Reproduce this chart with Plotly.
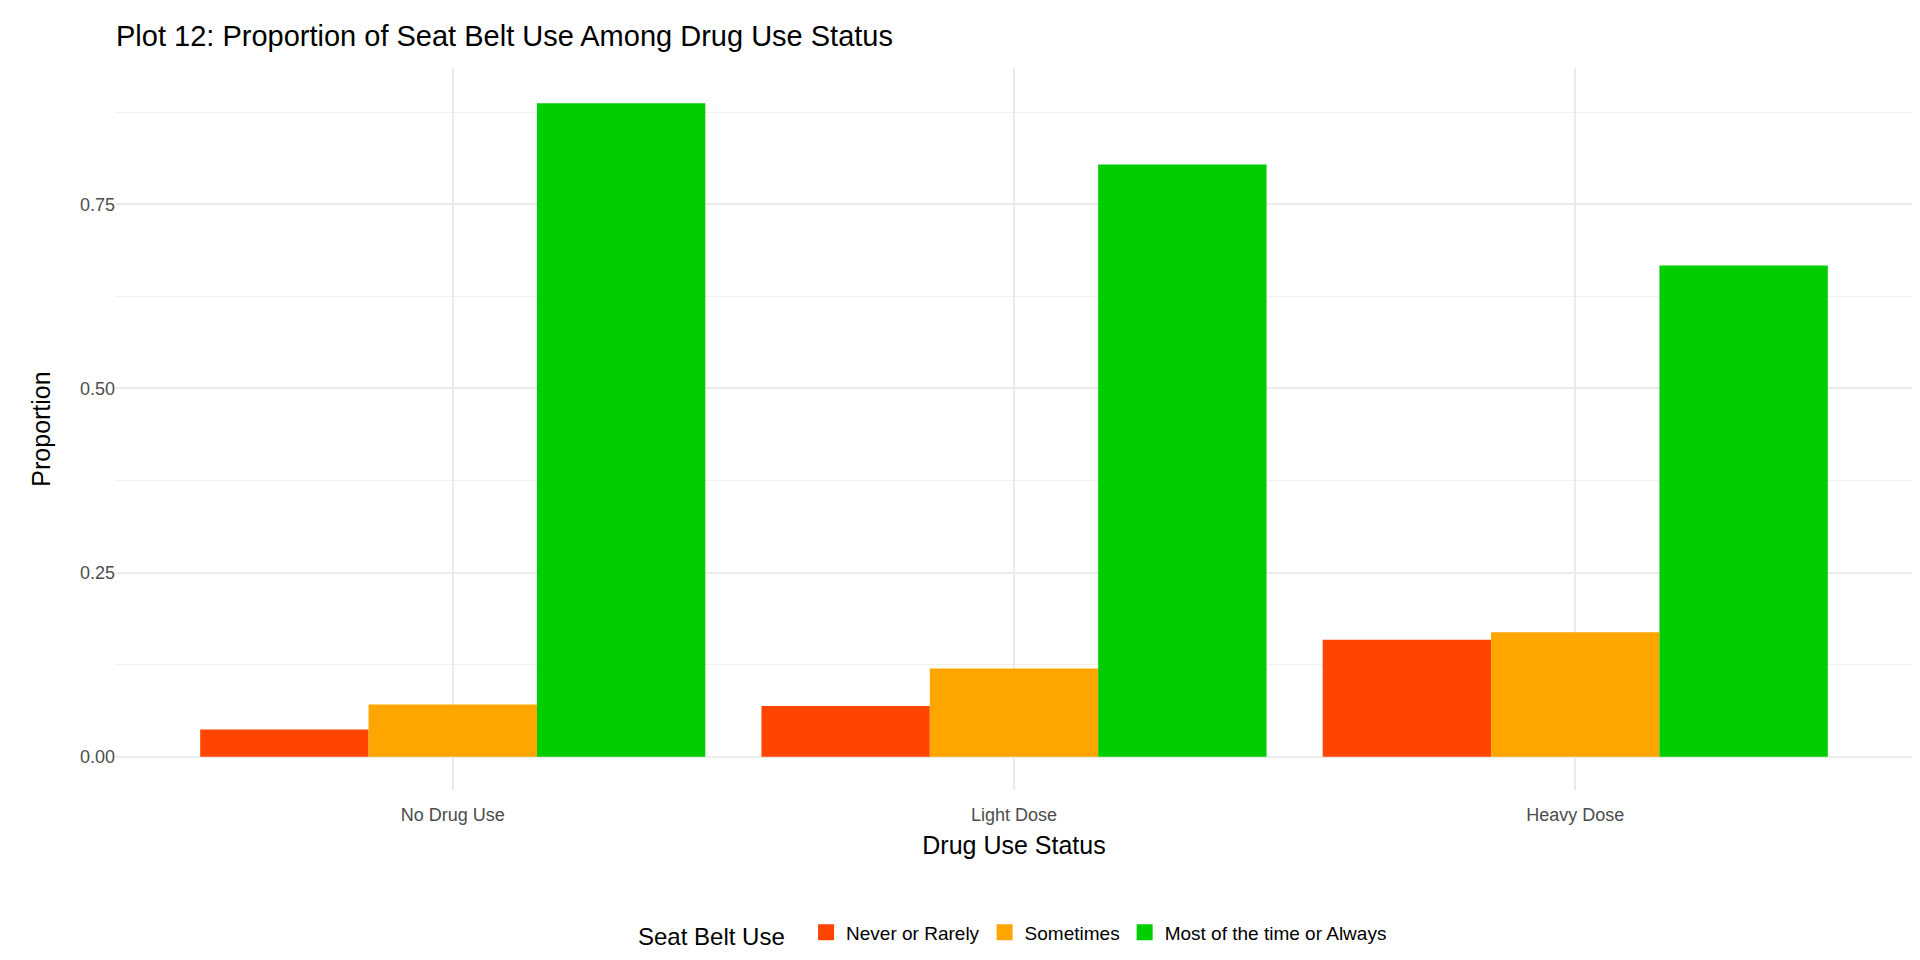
import plotly.graph_objects as go

categories = ["No Drug Use", "Light Dose", "Heavy Dose"]
series = ["Never or Rarely", "Sometimes", "Most of the time or Always"]
colors = ["#FF4500", "#FFA500", "#00CD00"]
values = {
    "Never or Rarely": [0.037, 0.069, 0.159],
    "Sometimes": [0.071, 0.120, 0.169],
    "Most of the time or Always": [0.887, 0.804, 0.667],
}

fig = go.Figure()
for s, c in zip(series, colors):
    fig.add_trace(go.Bar(x=categories, y=values[s], name=s, marker_color=c,
                         marker_line_width=0, showlegend=False))
for s, c in zip(series, colors):
    fig.add_trace(go.Scatter(x=[None], y=[None], mode="markers", name=s,
                             marker=dict(symbol="square", size=40, color=c)))

fig.update_layout(
    width=1920, height=960,
    paper_bgcolor="white", plot_bgcolor="white",
    font=dict(family="Liberation Sans, Arial, sans-serif", color="#4D4D4D", size=17),
    barmode="group", bargap=0.1, bargroupgap=0,
    margin=dict(l=108, r=16, t=60, b=173),
    title=dict(text="Plot 12: Proportion of Seat Belt Use Among Drug Use Status",
               x=108/1920, xanchor="left", y=1-28/960, yanchor="middle",
               font=dict(size=29, color="black")),
    legend=dict(orientation="h", x=0.5, xanchor="center", y=-0.2, yanchor="middle",
                title=dict(text="Seat Belt Use  ", font=dict(size=24, color="black")),
                font=dict(size=19, color="black"), itemsizing="trace"),
)
fig.update_xaxes(title=dict(text="Drug Use Status", font=dict(size=25, color="black"), standoff=12),
                 range=[-0.6, 2.6],
                 showgrid=True, gridcolor="#EBEBEB", gridwidth=1.5, zeroline=False,
                 ticks="", ticklabelstandoff=12, tickfont=dict(size=18, color="#4D4D4D"))
fig.update_yaxes(title=dict(text="Proportion", font=dict(size=25, color="black"), standoff=22),
                 range=[-0.045, 0.935], tickvals=[0, 0.25, 0.5, 0.75],
                 ticktext=["0.00", "0.25", "0.50", "0.75"],
                 showgrid=True, gridcolor="#EBEBEB", gridwidth=1.5, zeroline=False,
                 minor=dict(tickvals=[0.125, 0.375, 0.625, 0.875], showgrid=True,
                            gridcolor="#F2F2F2", gridwidth=1),
                 tickfont=dict(size=18, color="#4D4D4D"))

fig.write_html("out.html")
